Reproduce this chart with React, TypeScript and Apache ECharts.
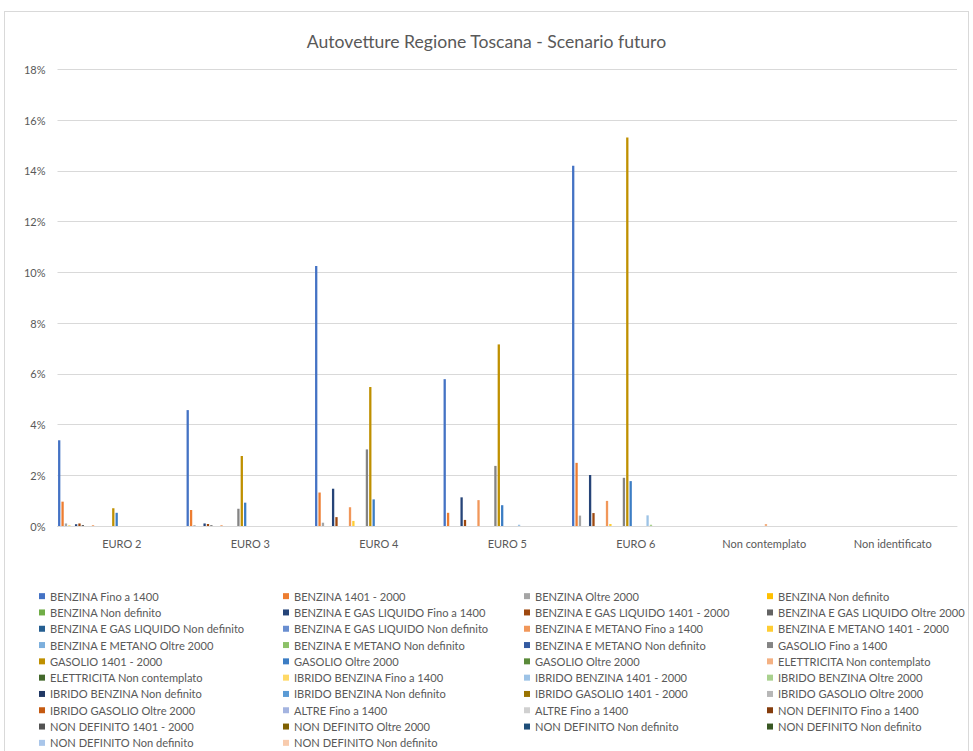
import React, { useEffect, useRef } from "react";
import * as echarts from "echarts";

const titleText = "Autovetture Regione Toscana - Scenario futuro";

const categories = ["EURO 2", "EURO 3", "EURO 4", "EURO 5", "EURO 6", "Non contemplato", "Non identificato"];

const yTicks = { min: 0, max: 18, interval: 2 };

const seriesNames = [
  "BENZINA Fino a 1400",
  "BENZINA 1401 - 2000",
  "BENZINA Oltre 2000",
  "BENZINA Non definito",
  "BENZINA Non definito",
  "BENZINA E GAS LIQUIDO Fino a 1400",
  "BENZINA E GAS LIQUIDO 1401 - 2000",
  "BENZINA E GAS LIQUIDO Oltre 2000",
  "BENZINA E GAS LIQUIDO Non definito",
  "BENZINA E GAS LIQUIDO Non definito",
  "BENZINA E METANO Fino a 1400",
  "BENZINA E METANO 1401 - 2000",
  "BENZINA E METANO Oltre 2000",
  "BENZINA E METANO Non definito",
  "BENZINA E METANO Non definito",
  "GASOLIO Fino a 1400",
  "GASOLIO 1401 - 2000",
  "GASOLIO Oltre 2000",
  "GASOLIO Oltre 2000",
  "ELETTRICITA Non contemplato",
  "ELETTRICITA Non contemplato",
  "IBRIDO BENZINA Fino a 1400",
  "IBRIDO BENZINA 1401 - 2000",
  "IBRIDO BENZINA Oltre 2000",
  "IBRIDO BENZINA Non definito",
  "IBRIDO BENZINA Non definito",
  "IBRIDO GASOLIO 1401 - 2000",
  "IBRIDO GASOLIO Oltre 2000",
  "IBRIDO GASOLIO Oltre 2000",
  "ALTRE Fino a 1400",
  "ALTRE Fino a 1400",
  "NON DEFINITO Fino a 1400",
  "NON DEFINITO 1401 - 2000",
  "NON DEFINITO Oltre 2000",
  "NON DEFINITO Non definito",
  "NON DEFINITO Non definito",
  "NON DEFINITO Non definito",
  "NON DEFINITO Non definito",
];

const seriesColors = [
  "#4472C4", "#ED7D31", "#A5A5A5", "#FFC000", "#70AD47", "#264478", "#9E480E", "#636363",
  "#255E91", "#698ED0", "#F1975A", "#FFCD33", "#7CAFDD", "#8CC168", "#335AA1", "#848484",
  "#BF9000", "#3C7DC4", "#5A8A39", "#F4B183", "#43682B", "#FFD966", "#9DC3E6", "#A9D18E",
  "#203864", "#5B9BD5", "#997300", "#B7B7B7", "#C55A11", "#A4B4E0", "#D0D0D0", "#843C0C",
  "#525252", "#7F6000", "#1F4E79", "#385723", "#A9C6EA", "#F8CBAD",
];

// values in % per category: EURO 2, EURO 3, EURO 4, EURO 5, EURO 6, Non contemplato, Non identificato
const seriesValues: number[][] = [
  [3.38, 4.57, 10.25, 5.79, 14.2, 0, 0],
  [0.96, 0.63, 1.32, 0.52, 2.49, 0, 0],
  [0.1, 0.03, 0.13, 0, 0.41, 0, 0],
  [0.02, 0, 0, 0, 0, 0, 0],
  [0, 0, 0, 0, 0, 0, 0],
  [0.07, 0.1, 1.47, 1.13, 2.01, 0, 0],
  [0.1, 0.08, 0.35, 0.24, 0.51, 0, 0],
  [0.04, 0.03, 0, 0, 0, 0, 0],
  [0, 0, 0, 0, 0, 0, 0],
  [0, 0, 0, 0, 0, 0, 0],
  [0.03, 0.03, 0.74, 1.02, 0.99, 0, 0],
  [0, 0, 0.2, 0, 0.08, 0, 0],
  [0, 0, 0, 0, 0, 0, 0],
  [0, 0, 0, 0, 0, 0, 0],
  [0, 0, 0, 0, 0, 0, 0],
  [0, 0.68, 3.02, 2.37, 1.9, 0, 0],
  [0.7, 2.76, 5.48, 7.16, 15.32, 0, 0],
  [0.52, 0.92, 1.05, 0.82, 1.77, 0, 0],
  [0, 0, 0, 0, 0, 0, 0],
  [0, 0, 0, 0, 0, 0.08, 0],
  [0, 0, 0, 0, 0, 0, 0],
  [0, 0, 0, 0, 0, 0, 0],
  [0, 0, 0, 0.05, 0.42, 0, 0],
  [0, 0, 0, 0, 0.05, 0, 0],
  [0, 0, 0, 0, 0, 0, 0],
  [0, 0, 0, 0, 0, 0, 0],
  [0, 0, 0, 0, 0, 0, 0],
  [0, 0, 0, 0, 0, 0, 0],
  [0, 0, 0, 0, 0, 0, 0],
  [0, 0, 0, 0, 0, 0, 0],
  [0, 0, 0, 0, 0, 0, 0],
  [0, 0, 0, 0, 0, 0, 0],
  [0, 0, 0, 0, 0, 0, 0],
  [0, 0, 0, 0, 0, 0, 0],
  [0, 0, 0, 0, 0, 0, 0],
  [0, 0, 0, 0, 0, 0, 0],
  [0, 0, 0, 0, 0, 0, 0],
  [0, 0, 0, 0, 0, 0, 0],
];

const FONT = "Lato, 'Liberation Sans', sans-serif";
const TEXT = "#595959";
const LEGEND_COLUMNS = 4;
const legendLefts = [34, 278, 519, 762];

export default function App() {
  const ref = useRef<HTMLDivElement>(null);

  useEffect(() => {
    if (!ref.current) return;
    const chart = echarts.init(ref.current, undefined, { renderer: "svg" });
    const uid = (i: number) => `${seriesNames[i]}#${i}`;

    const legends = legendLefts.map((left, c) => ({
      orient: "vertical" as const,
      left,
      top: 576,
      padding: 0,
      itemGap: 0,
      itemWidth: 6,
      itemHeight: 6,
      icon: "rect",
      selectedMode: false,
      data: seriesNames.map((_, i) => i).filter((i) => i % LEGEND_COLUMNS === c).map(uid),
      formatter: (n: string) => n.split("#")[0],
      textStyle: { fontFamily: FONT, fontSize: 11.1, color: TEXT, lineHeight: 16.3 },
    }));

    chart.setOption({
      animation: false,
      color: seriesColors,
      textStyle: { fontFamily: FONT },
      title: {
        text: titleText,
        left: "center",
        top: 15,
        textStyle: { fontFamily: FONT, fontSize: 17.6, fontWeight: "normal", color: TEXT },
      },
      legend: legends,
      grid: { left: 52.5, top: 57.5, width: 899.5, height: 456.5, containLabel: false },
      xAxis: {
        type: "category",
        data: categories,
        axisLine: { lineStyle: { color: "#d9d9d9", width: 1 } },
        axisTick: { show: false },
        axisLabel: { fontFamily: FONT, fontSize: 11, color: TEXT, margin: 12, interval: 0 },
      },
      yAxis: {
        type: "value",
        min: yTicks.min,
        max: yTicks.max,
        interval: yTicks.interval,
        axisLine: { show: false },
        axisTick: { show: false },
        splitLine: { lineStyle: { color: "#d9d9d9", width: 1 } },
        axisLabel: { fontFamily: FONT, fontSize: 11, color: TEXT, margin: 12, formatter: (v: number) => `${v}%` },
      },
      series: seriesValues.map((vals, i) => ({
        name: uid(i),
        type: "bar",
        data: vals,
        barWidth: 2.3,
        barGap: "47%",
        itemStyle: { color: seriesColors[i] },
        emphasis: { disabled: true },
      })),
    });

    return () => chart.dispose();
  }, []);

  return (
    <div style={{ position: "fixed", left: 0, top: 0, width: 973, height: 751, background: "#fff", overflow: "hidden" }}>
      <div
        style={{
          position: "absolute",
          left: 4,
          top: 11,
          width: 965,
          height: 760,
          border: "1px solid #d9d9d9",
          boxSizing: "border-box",
        }}
      />
      <div ref={ref} style={{ position: "absolute", left: 5, top: 12, width: 963, height: 820 }} />
    </div>
  );
}
